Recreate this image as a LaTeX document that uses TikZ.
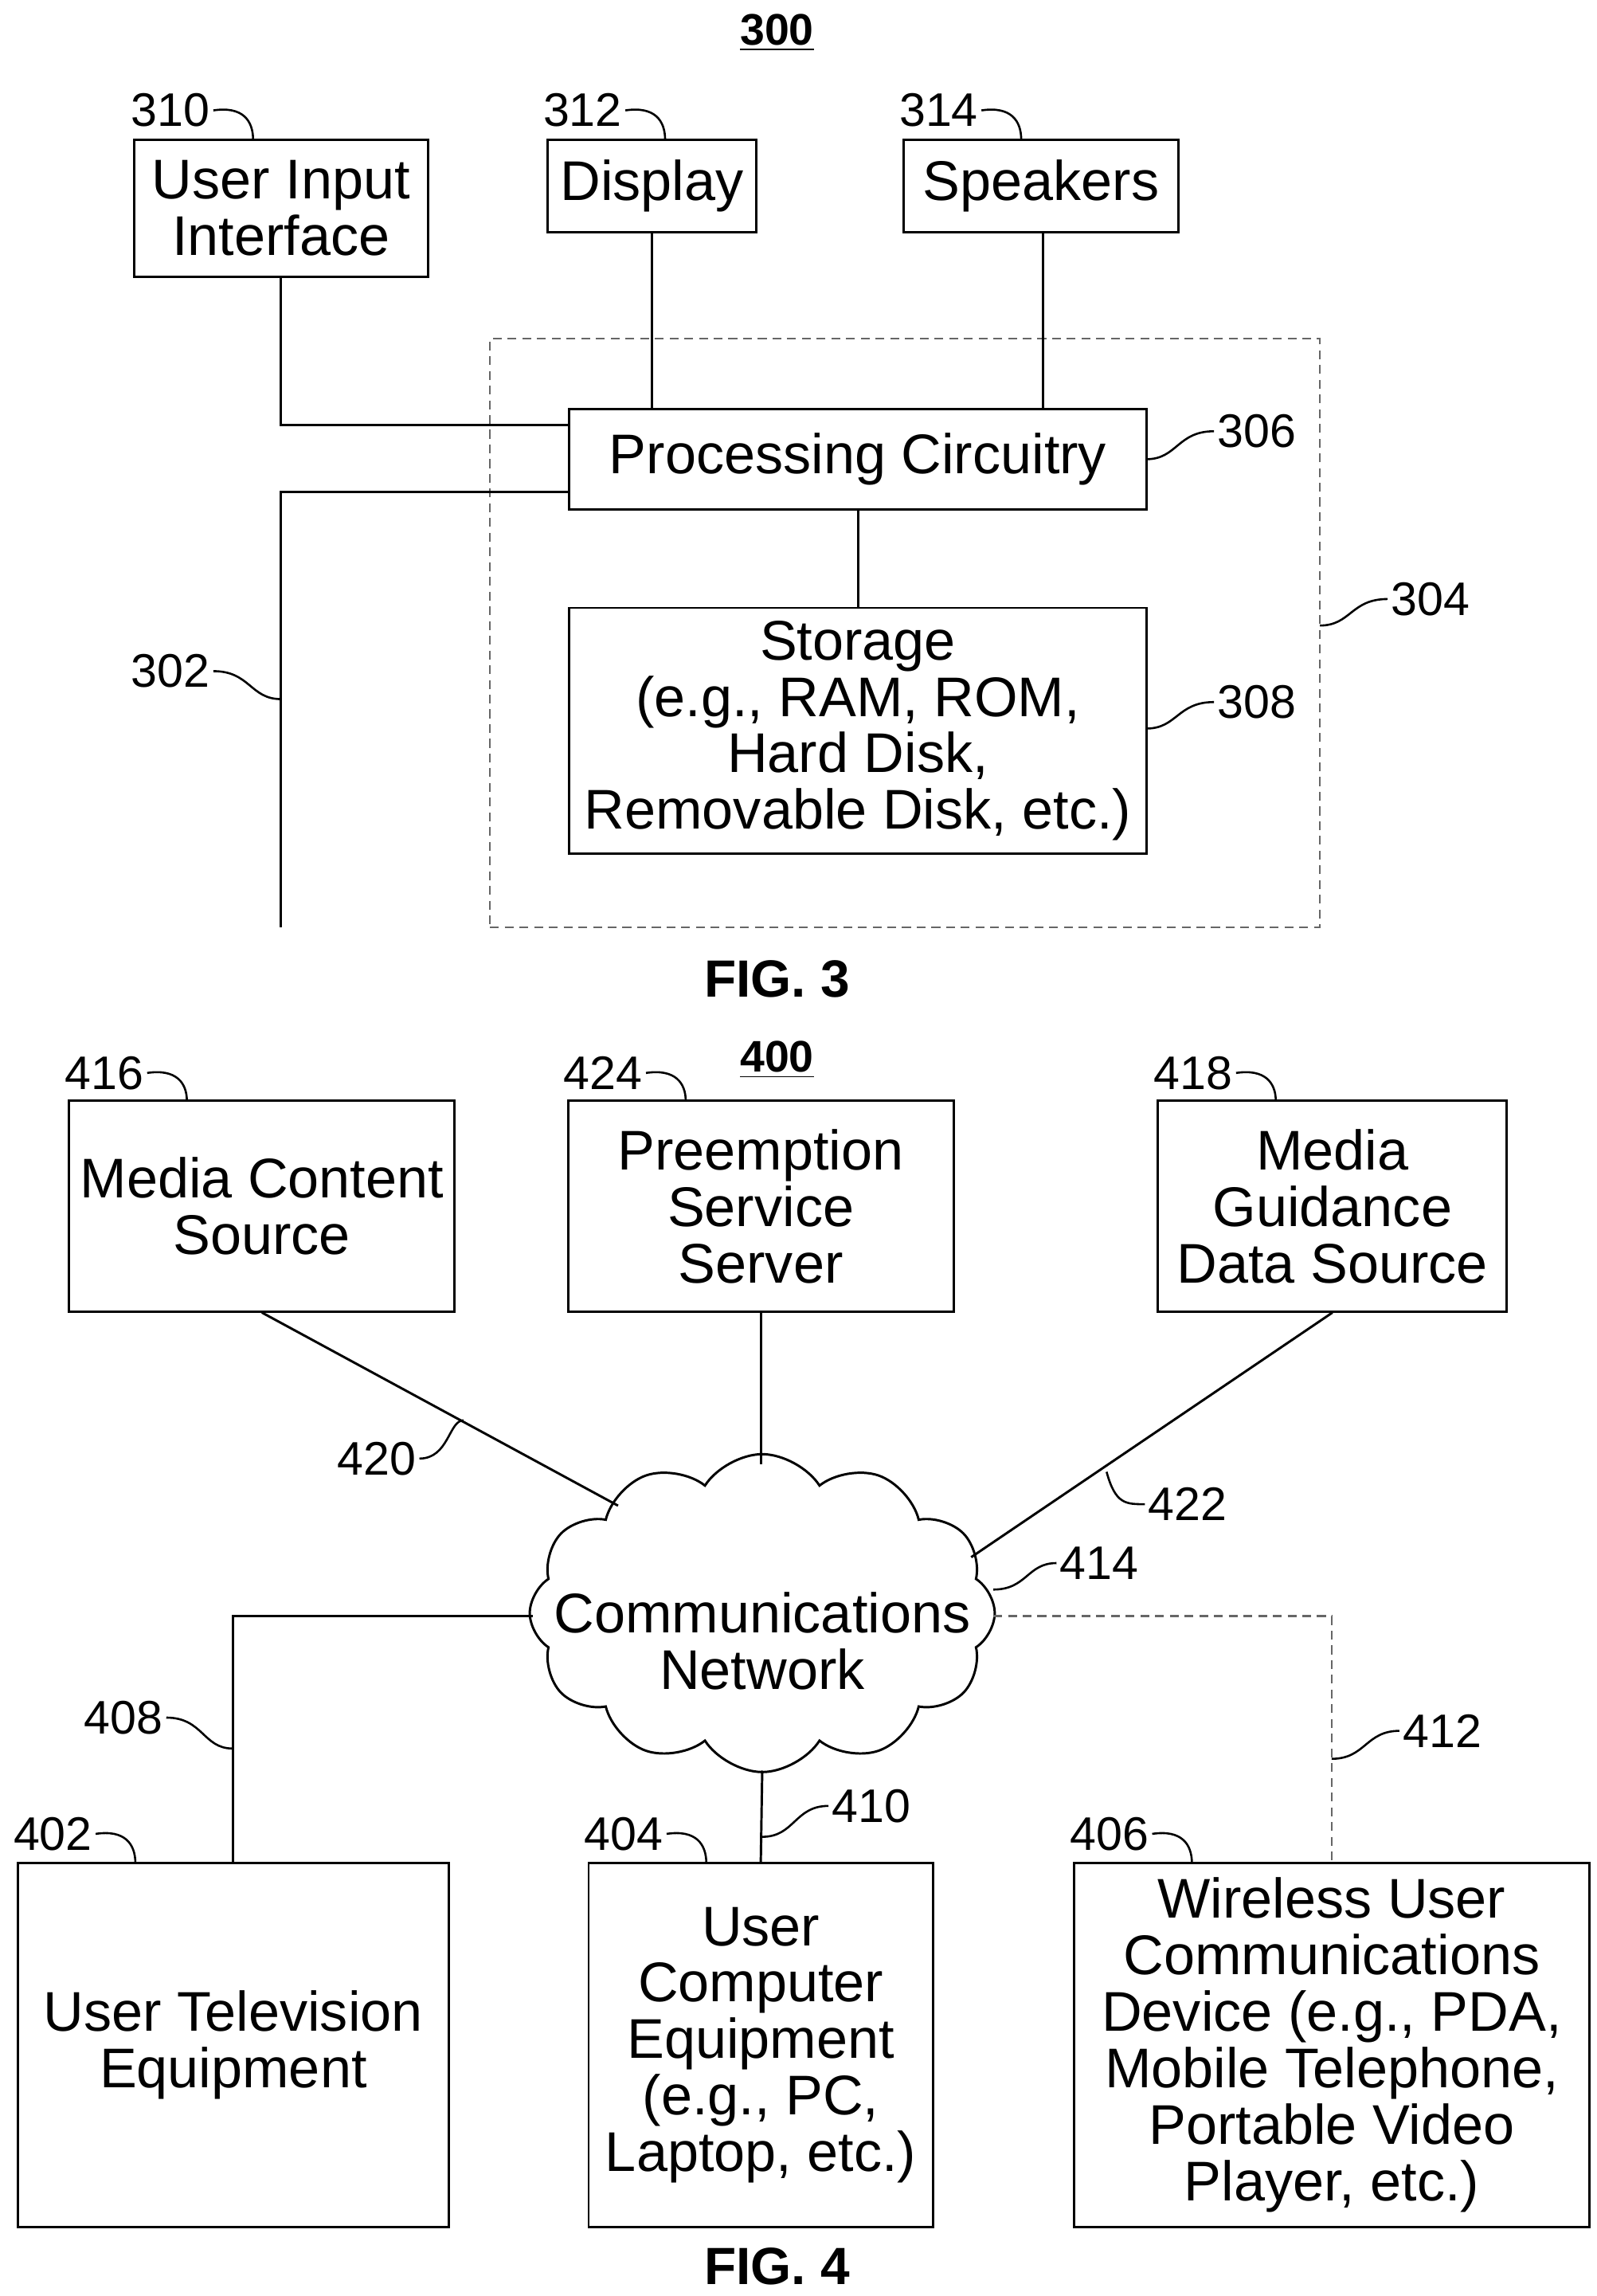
\documentclass[tikz,border=0pt]{standalone}
\usepackage{fontspec}
\setmainfont{Liberation Sans}
\usetikzlibrary{shapes.symbols}
\begin{document}
\begin{tikzpicture}[x=0.5pt,y=-0.5pt,
  box/.style={draw,line width=0.8pt,align=center,inner sep=0pt,font=\fontsize{19}{19.2}\selectfont},
  lbl/.style={font=\fontsize{16}{18}\selectfont,inner sep=1pt},
  ttl/.style={font=\bfseries\fontsize{15}{17}\selectfont},
  fig/.style={font=\bfseries\fontsize{17.8}{19}\selectfont},
  ln/.style={line width=0.8pt},
  dsh/.style={line width=0.6pt,dash pattern=on 3pt off 2pt,gray!80!black},
  ld/.style={line width=0.7pt}]
\useasboundingbox (0,0) rectangle (1085,1560);
% FIG 3
\node[ttl] (t300) at (528,22) {\underline{300}};
\node[box,minimum width=100pt,minimum height=46.5pt] (uii) at (191,141.5) {User Input\\Interface};
\node[box,minimum width=71pt,minimum height=31.5pt] (disp) at (443,126.5) {Display};
\node[box,minimum width=93.5pt,minimum height=31.5pt] (spk) at (707.5,126.5) {Speakers};
\node[draw,dsh,minimum width=282pt,minimum height=200pt,inner sep=0pt] (grp) at (615,430) {};
\node[box,minimum width=196pt,minimum height=34pt] (pc) at (583,312) {Processing Circuitry};
\node[box,minimum width=196pt,minimum height=83.5pt] (sto) at (583,496.5) {Storage\\(e.g., RAM, ROM,\\Hard Disk,\\Removable Disk, etc.)};
\coordinate (busend) at (191,630);
\draw[ln] (uii.south) |- (387,289);
\draw[ln] (disp.south) -- (443,278);
\draw[ln] (709,158) -- (709,278);
\draw[ln] (387,334) -| (busend);
\draw[ln] (pc.south) -- (sto.north);
\node[lbl,anchor=east] (l310) at (145,75) {310};
\node[lbl,anchor=east] (l312) at (425,75) {312};
\node[lbl,anchor=east] (l314) at (667,75) {314};
\node[lbl,anchor=west] (l306) at (825,293) {306};
\node[lbl,anchor=west] (l304) at (943,407) {304};
\node[lbl,anchor=west] (l308) at (825,477) {308};
\node[lbl,anchor=east] (l302) at (145,456) {302};
\draw[ld] (l310.east) .. controls (165,72) and (172,82) .. (172,95);
\draw[ld] (l312.east) .. controls (445,72) and (452,82) .. (452,95);
\draw[ld] (l314.east) .. controls (687,72) and (694,82) .. (694,95);
\draw[ld] (779,312) .. controls (800,312) and (800,293) .. (l306.west);
\draw[ld] (897,425) .. controls (918,425) and (918,407) .. (l304.west);
\draw[ld] (779,495) .. controls (800,495) and (800,477) .. (l308.west);
\draw[ld] (l302.east) .. controls (170,456) and (170,475) .. (191,475);
\node[fig] (f3) at (528,665) {FIG. 3};
% FIG 4
\node[ttl] (t400) at (528,720) {\underline{400}};
\node[box,minimum width=131pt,minimum height=71.5pt] (mcs) at (178,819.5) {Media Content\\Source};
\node[box,minimum width=131pt,minimum height=71.5pt] (pss) at (517,819.5) {Preemption\\Service\\Server};
\node[box,minimum width=118.5pt,minimum height=71.5pt] (mgd) at (905.5,819.5) {Media\\Guidance\\Data Source};
\node[cloud,draw,line width=0.8pt,cloud puffs=12,cloud puff arc=115,aspect=1.5,minimum width=158pt,minimum height=108pt,inner sep=0pt] (cn) at (518,1096) {};
\node[align=center,inner sep=0pt,font=\fontsize{19}{19.2}\selectfont] (cnt) at (518,1115) {Communications\\Network};
\node[box,minimum width=146.5pt,minimum height=123.5pt] (ute) at (158.5,1389.5) {User Television\\Equipment};
\node[box,minimum width=117pt,minimum height=123.5pt] (uce) at (517,1389.5) {User\\Computer\\Equipment\\(e.g., PC,\\Laptop, etc.)};
\node[box,minimum width=175pt,minimum height=123.5pt] (wuc) at (905,1389.5) {Wireless User\\Communications\\Device (e.g., PDA,\\Mobile Telephone,\\Portable Video\\Player, etc.)};
\coordinate (c1) at (420,1023);
\coordinate (c2) at (517,995);
\coordinate (c3) at (660,1058);
\coordinate (c4) at (362,1098);
\coordinate (c5) at (518,1203);
\coordinate (c6) at (675,1098);
\draw[ln] (mcs.south) -- (c1);
\draw[ln] (pss.south) -- (c2);
\draw[ln] (mgd.south) -- (c3);
\draw[ln] (c4) -| (ute.north);
\draw[ln] (c5) -- (uce.north);
\draw[dsh] (c6) -| (wuc.north);
\node[lbl,anchor=east] (l416) at (100,729) {416};
\node[lbl,anchor=east] (l424) at (439,729) {424};
\node[lbl,anchor=east] (l418) at (840,729) {418};
\node[lbl,anchor=east] (l420) at (285,991) {420};
\node[lbl,anchor=west] (l422) at (778,1022) {422};
\node[lbl,anchor=west] (l414) at (718,1062) {414};
\node[lbl,anchor=east] (l408) at (113,1167) {408};
\node[lbl,anchor=west] (l410) at (563,1227) {410};
\node[lbl,anchor=west] (l412) at (951,1176) {412};
\node[lbl,anchor=east] (l402) at (65,1246) {402};
\node[lbl,anchor=east] (l404) at (453,1246) {404};
\node[lbl,anchor=east] (l406) at (783,1246) {406};
\draw[ld] (l416.east) .. controls (120,726) and (127,736) .. (127,748);
\draw[ld] (l424.east) .. controls (459,726) and (466,736) .. (466,748);
\draw[ld] (l418.east) .. controls (860,726) and (867,736) .. (867,748);
\draw[ld] (l420.east) .. controls (305,991) and (305,965) .. (315,965);
\draw[ld] (752,1000) .. controls (758,1022) and (765,1022) .. (l422.west);
\draw[ld] (675,1080) .. controls (698,1080) and (698,1062) .. (l414.west);
\draw[ld] (l408.east) .. controls (138,1167) and (138,1188) .. (158,1188);
\draw[ld] (518,1248) .. controls (540,1248) and (540,1227) .. (l410.west);
\draw[ld] (905,1195) .. controls (928,1195) and (928,1176) .. (l412.west);
\draw[ld] (l402.east) .. controls (85,1243) and (92,1253) .. (92,1266);
\draw[ld] (l404.east) .. controls (473,1243) and (480,1253) .. (480,1266);
\draw[ld] (l406.east) .. controls (803,1243) and (810,1253) .. (810,1266);
\node[fig] (f4) at (528,1540) {FIG. 4};
\end{tikzpicture}
\end{document}
